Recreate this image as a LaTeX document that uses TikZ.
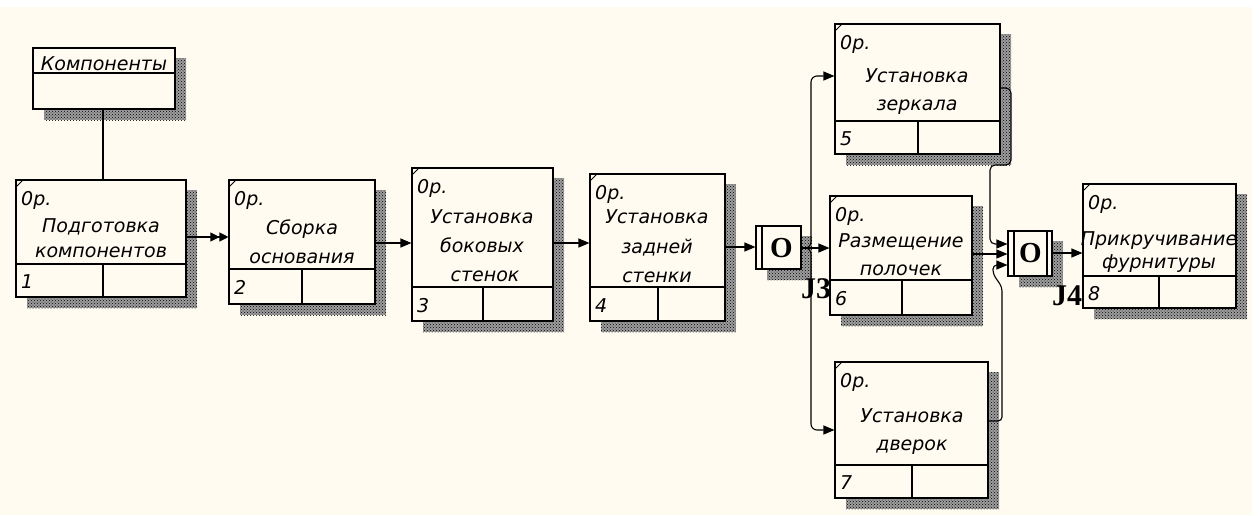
\documentclass[tikz,border=0pt]{standalone}
\usepackage{fontspec}
\setmainfont{DejaVu Sans}
\newfontfamily\serifb{Liberation Serif}
\usetikzlibrary{arrows.meta,patterns,fit}
\definecolor{cream}{RGB}{255,251,240}
\tikzset{
 conn/.style={line width=1.1pt, black},
 arr/.style={conn, -{Triangle[length=11pt,width=9pt]}},
 darr/.style={conn, -{Triangle[length=9pt,width=9pt]Triangle[length=9pt,width=9pt]}},
 boxline/.style={line width=1.1pt},
 shadowbg/.style={fill=black!38},
 shadowpat/.style={pattern=crosshatch dots, pattern color=black},
 lbl/.style={font=\fontsize{19}{22}\selectfont\itshape, inner sep=0pt, text height=14pt, text depth=4pt},
 jl/.style={font=\serifb\bfseries\fontsize{30}{30}\selectfont, inner sep=0pt, text height=20pt, text depth=0pt},
 jo/.style={font=\serifb\bfseries\fontsize{29}{30}\selectfont, inner sep=0pt},
 frame/.style={draw, line width=1.1pt, fill=cream, inner sep=0pt},
}
\newcommand\shadowrect[4]{%
 \fill[shadowbg] ({#1+11},{#2+10}) rectangle ({#3+11},{#4+11});
 \fill[shadowpat] ({#1+11},{#2+10}) rectangle ({#3+11},{#4+11});
}
\newcommand\procbox[8]{%
 \shadowrect{#2}{#3}{#4}{#5}
 \coordinate (#1-nw) at (#2,#3);
 \coordinate (#1-se) at (#4,#5);
 \node[frame, fit=(#1-nw)(#1-se)] (#1) {};
 \draw[boxline] (#2,#6) -- (#4,#6);
 \draw[boxline] (#7,#6) -- (#7,#5);
 \draw[line width=0.8pt] (#2,{#3+7}) -- ({#2+7},#3);
 \node[lbl, anchor=west] (#1-op) at ({#2+5},{#3+20}) {0р.};
 \node[lbl, anchor=west] (#1-num) at ({#2+5},{(#6+#5)/2+3}) {#8};
}
\begin{document}
\begin{tikzpicture}[x=1pt,y=-1pt]
\useasboundingbox (0,0) rectangle (1259,515);
\fill[white] (0,0) rectangle (1259,515);
\fill[cream] (0,7) rectangle (1252,515);

% Komponenty box
\shadowrect{33}{48}{175}{109}
\coordinate (comp-nw) at (33,48);
\coordinate (comp-se) at (175,109);
\node[frame, fit=(comp-nw)(comp-se)] (comp) {};
\draw[boxline] (33,73) -- (175,73);
\node[lbl] (comp-t) at (104,65) {Компоненты};

% process boxes
\procbox{b1}{16}{180}{186}{297}{264}{103}{1}
\node[lbl] (b1-t1) at (101,227) {Подготовка};
\node[lbl] (b1-t2) at (101,252) {компонентов};

\procbox{b2}{229}{180}{375}{304}{269}{302}{2}
\node[lbl] (b2-t1) at (302,229) {Сборка};
\node[lbl] (b2-t2) at (302,258) {основания};

\procbox{b3}{412}{168}{553}{321}{287}{483}{3}
\node[lbl] (b3-t1) at (482,218) {Установка};
\node[lbl] (b3-t2) at (482,247) {боковых};
\node[lbl] (b3-t3) at (485,276) {стенок};

\procbox{b4}{590}{174}{725}{321}{287}{658}{4}
\node[lbl] (b4-t1) at (657,218) {Установка};
\node[lbl] (b4-t2) at (657,248) {задней};
\node[lbl] (b4-t3) at (657,277) {стенки};

\procbox{b5}{835}{24}{1000}{154}{121}{918}{5}
\node[lbl] (b5-t1) at (917,77) {Установка};
\node[lbl] (b5-t2) at (917,105) {зеркала};

\procbox{b6}{830}{196}{972}{315}{280}{902}{6}
\node[lbl] (b6-t1) at (901,242) {Размещение};
\node[lbl] (b6-t2) at (901,270) {полочек};

\procbox{b7}{835}{362}{988}{498}{465}{912}{7}
\node[lbl] (b7-t1) at (912,417) {Установка};
\node[lbl] (b7-t2) at (912,445) {дверок};

\procbox{b8}{1083}{184}{1236}{308}{276}{1159}{8}
\node[lbl] (b8-t1) at (1159,240) {Прикручивание};
\node[lbl] (b8-t2) at (1159,263) {фурнитуры};

% junctions
\shadowrect{756}{226}{801}{269}
\coordinate (J3-nw) at (756,226);
\coordinate (J3-se) at (801,269);
\node[frame, fit=(J3-nw)(J3-se)] (J3) {};
\draw[boxline] (762,226) -- (762,269);
\node[jo] (J3-o) at (781.5,248) {O};

\shadowrect{1008}{231}{1052}{276}
\coordinate (J4-nw) at (1008,231);
\coordinate (J4-se) at (1052,276);
\node[frame, fit=(J4-nw)(J4-se)] (J4) {};
\draw[boxline] (1014,231) -- (1014,276);
\draw[boxline] (1047,231) -- (1047,276);
\node[jo] (J4-o) at (1030.5,253.5) {O};

% connectors
\draw[conn] (comp.south -| 103,0) -- (b1.north -| 103,0);
\draw[darr] (b1.east |- 0,237) -- (b2.west |- 0,237);
\draw[arr] (b2.east |- 0,243) -- (b3.west |- 0,243);
\draw[arr] (b3.east |- 0,243) -- (b4.west |- 0,243);
\draw[arr] (b4.east |- 0,247) -- (J3.west |- 0,247);
\draw[arr] (J3.east |- 0,248) -- (b6.west |- 0,248);
\draw[arr, rounded corners=6pt] (J3.east |- 0,248) -- (811,248) -- (811,76) -- (b5.west |- 0,76);
\draw[arr, rounded corners=6pt] (J3.east |- 0,248) -- (811,248) -- (811,430) -- (b7.west |- 0,430);
\draw[arr] (b6.east |- 0,254) -- (J4.west |- 0,254);
\draw[arr, rounded corners=5pt] (b5.east |- 0,88) -- (1011,88) -- (1011,165) -- (990,165) -- (990,244) -- (J4.west |- 0,244);
\draw[arr, rounded corners=4pt] (b7.east |- 0,421) -- (1002,421) -- (1002,287) -- (993,274) -- (993,265) -- (J4.west |- 0,265);
\draw[arr] (J4.east |- 0,253) -- (b8.west |- 0,253);

% junction labels
\node[jl] (J3-l) at (816,288) {J3};
\node[jl] (J4-l) at (1067,295) {J4};
\end{tikzpicture}
\end{document}
